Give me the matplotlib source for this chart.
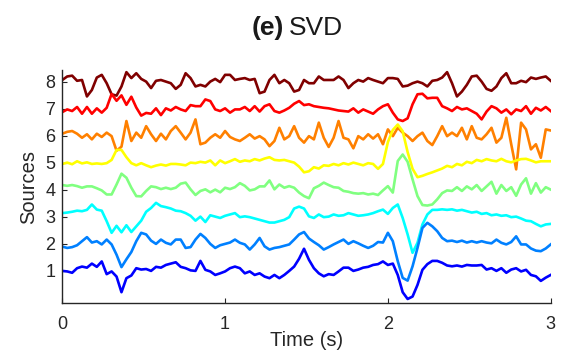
import numpy as np
import matplotlib
matplotlib.use("Agg")
import matplotlib.pyplot as plt

plt.rcParams['font.family'] = ['Liberation Sans', 'DejaVu Sans']

# sampling grid (s) and the 8 source traces
time = np.linspace(0, 3, 100)

source1 = [1.00, 0.98, 0.93, 1.10, 1.16, 1.12, 1.27, 1.15, 1.35, 0.88,
           0.98, 0.79, 0.21, 0.73, 0.83, 1.10, 1.05, 1.07, 1.00, 1.15,
           1.12, 1.22, 1.27, 1.32, 1.15, 1.10, 1.02, 1.00, 1.37, 1.04,
           0.98, 0.85, 0.91, 0.98, 1.10, 1.16, 1.10, 0.91, 0.98, 0.85,
           0.91, 0.79, 0.73, 0.85, 0.73, 0.85, 1.00, 1.16, 1.45, 1.82,
           1.41, 1.10, 0.91, 0.80, 0.88, 0.85, 0.98, 1.12, 1.12, 1.00,
           1.05, 1.12, 1.15, 1.22, 1.25, 1.35, 1.22, 1.27, 0.85, 0.21,
           -0.04, 0.05, 0.48, 1.04, 1.25, 1.37, 1.37, 1.30, 1.20, 1.17,
           1.20, 1.16, 1.22, 1.20, 1.20, 1.22, 1.05, 1.10, 1.00, 1.10,
           0.93, 1.05, 1.10, 0.98, 1.04, 0.85, 0.80, 0.63, 0.75, 0.85]
source2 = [1.90, 1.85, 1.88, 1.95, 2.10, 2.25, 2.05, 2.10, 1.98, 2.16,
           1.98, 1.60, 1.14, 1.43, 1.70, 2.10, 2.41, 2.35, 2.12, 2.00,
           2.16, 2.04, 1.98, 2.16, 2.16, 1.85, 1.88, 2.16, 2.37, 2.22,
           2.00, 1.85, 1.95, 2.00, 2.05, 2.16, 2.04, 1.98, 1.79, 1.98,
           2.22, 1.91, 1.79, 1.85, 1.88, 1.93, 1.98, 2.16, 2.35, 2.44,
           2.20, 2.07, 1.95, 1.79, 1.88, 1.98, 2.07, 2.16, 2.00, 2.10,
           2.02, 1.93, 1.85, 1.93, 2.07, 2.05, 2.41, 2.10, 1.36, 0.74,
           0.64, 1.17, 1.85, 2.59, 2.78, 2.65, 2.47, 2.22, 2.10, 2.12,
           2.07, 2.12, 2.05, 2.10, 2.05, 2.10, 2.05, 2.02, 2.16, 2.04,
           1.98, 2.07, 2.28, 1.98, 1.98, 1.83, 1.75, 1.73, 1.83, 1.98]
source3 = [3.14, 3.16, 3.19, 3.23, 3.21, 3.26, 3.46, 3.27, 3.23, 2.84,
           2.41, 2.67, 2.43, 2.69, 2.44, 2.65, 2.86, 3.19, 3.33, 3.52,
           3.40, 3.36, 3.31, 3.23, 3.21, 3.14, 3.04, 2.86, 3.01, 2.81,
           3.06, 3.01, 2.96, 3.04, 3.09, 3.14, 2.99, 3.02, 2.99, 2.94,
           2.89, 2.84, 2.79, 2.79, 2.84, 2.89, 2.99, 3.31, 3.38, 3.31,
           3.02, 2.96, 3.09, 2.99, 3.01, 3.09, 3.04, 3.06, 3.14, 3.09,
           3.04, 3.06, 3.09, 3.14, 3.21, 3.27, 3.11, 3.33, 3.46, 2.96,
           2.35, 1.67, 2.04, 2.72, 3.09, 3.26, 3.26, 3.28, 3.26, 3.28,
           3.23, 3.26, 3.21, 3.16, 3.19, 3.11, 3.14, 3.06, 3.09, 3.04,
           3.06, 2.99, 3.01, 2.94, 2.86, 2.84, 2.74, 2.65, 2.72, 2.74]
source4 = [4.18, 4.15, 4.18, 4.14, 4.08, 4.13, 4.13, 4.06, 3.98, 3.83,
           3.83, 4.20, 4.60, 4.45, 4.08, 3.77, 3.76, 3.96, 4.13, 4.10,
           4.03, 4.08, 4.03, 4.08, 4.23, 4.27, 4.02, 3.81, 3.96, 4.02,
           3.91, 4.01, 3.91, 4.08, 4.03, 4.10, 4.25, 4.15, 3.98, 4.02,
           4.13, 4.13, 4.35, 4.02, 4.20, 4.08, 4.14, 4.08, 3.90, 3.77,
           3.69, 4.06, 4.15, 4.27, 4.18, 4.10, 4.08, 3.96, 3.93, 3.88,
           3.86, 3.88, 3.83, 3.86, 3.81, 3.98, 4.14, 3.90, 5.07, 5.31,
           5.04, 4.39, 3.77, 3.44, 3.42, 3.46, 3.65, 3.88, 3.98, 3.96,
           4.10, 3.96, 4.13, 4.02, 4.18, 3.96, 4.13, 4.30, 3.86, 4.18,
           3.96, 4.10, 3.78, 4.20, 4.43, 3.86, 4.25, 3.90, 4.10, 4.01]
source5 = [4.96, 5.01, 4.95, 5.06, 4.98, 5.02, 4.96, 4.98, 4.96, 4.99,
           5.11, 5.48, 5.48, 5.21, 4.99, 4.91, 4.99, 4.91, 4.84, 4.90,
           4.94, 4.90, 4.96, 4.96, 4.94, 4.91, 5.01, 4.99, 5.04, 5.01,
           5.09, 4.91, 5.09, 4.99, 5.06, 5.14, 5.04, 5.09, 5.06, 5.14,
           5.09, 5.16, 5.21, 5.11, 5.09, 5.11, 5.06, 5.01, 4.86, 4.65,
           4.69, 4.84, 4.79, 4.91, 4.89, 4.96, 4.91, 4.99, 4.94, 5.01,
           4.96, 4.91, 4.99, 4.96, 4.78, 4.96, 5.77, 6.22, 6.42, 6.17,
           5.40, 4.78, 4.47, 4.52, 4.59, 4.65, 4.72, 4.79, 4.89, 4.84,
           4.96, 4.91, 5.04, 4.99, 5.11, 5.06, 5.14, 5.09, 5.06, 5.15,
           5.06, 5.02, 5.09, 5.14, 5.15, 5.09, 5.02, 5.06, 5.06, 5.06]
source6 = [6.08, 6.15, 6.18, 6.08, 5.93, 6.06, 5.87, 6.08, 5.96, 6.12,
           5.99, 5.45, 5.60, 6.55, 5.81, 6.12, 5.93, 6.36, 6.06, 5.81,
           6.08, 5.87, 6.18, 6.36, 6.12, 5.87, 6.12, 6.61, 5.69, 5.75,
           5.93, 6.06, 5.93, 6.18, 5.96, 5.87, 5.81, 5.93, 6.06, 5.90,
           5.99, 5.87, 5.62, 5.81, 6.30, 5.87, 5.99, 6.36, 5.93, 5.75,
           5.99, 5.87, 6.49, 5.93, 5.59, 5.93, 6.55, 5.93, 5.87, 5.54,
           5.99, 5.87, 6.06, 5.90, 6.06, 5.69, 6.24, 5.99, 6.30, 6.12,
           5.99, 5.81, 5.99, 6.12, 5.81, 5.66, 5.99, 6.36, 5.99, 6.12,
           5.99, 6.30, 5.87, 6.36, 5.93, 5.87, 6.06, 6.30, 5.75, 5.93,
           6.67, 5.69, 4.76, 6.49, 6.24, 5.50, 5.69, 5.19, 6.24, 6.20]
source7 = [6.88, 6.98, 6.92, 7.07, 6.82, 7.07, 6.82, 7.02, 6.86, 7.04,
           7.55, 7.30, 7.50, 7.15, 7.45, 7.05, 6.75, 6.85, 6.82, 7.02,
           6.77, 7.02, 6.94, 7.07, 6.98, 6.92, 7.14, 7.10, 7.10, 7.35,
           7.29, 6.98, 6.92, 7.02, 6.86, 6.98, 6.98, 7.07, 6.92, 7.10,
           6.90, 7.10, 7.17, 6.92, 6.86, 6.94, 7.04, 7.19, 7.29, 7.14,
           7.17, 7.10, 7.07, 7.04, 7.02, 6.98, 6.94, 6.92, 6.90, 7.02,
           6.86, 6.98, 6.90, 6.82, 6.98, 7.10, 7.17, 6.86, 6.61, 6.55,
           6.65, 7.17, 7.54, 7.56, 7.39, 7.41, 7.41, 7.10, 7.02, 6.92,
           7.07, 6.98, 7.02, 6.92, 6.82, 6.61, 6.90, 7.10, 7.02, 6.86,
           6.98, 6.80, 6.98, 6.92, 7.10, 6.82, 7.04, 6.94, 7.07, 6.92]
source8 = [8.07, 8.20, 8.23, 8.04, 8.07, 7.46, 7.70, 8.16, 8.26, 7.95,
           7.54, 7.49, 7.83, 8.36, 8.14, 8.32, 8.11, 8.01, 7.77, 8.04,
           8.07, 8.01, 7.95, 7.74, 7.89, 8.32, 8.14, 7.83, 7.89, 7.83,
           8.01, 8.11, 7.99, 8.26, 8.26, 8.07, 8.11, 8.14, 8.07, 8.11,
           7.58, 7.64, 8.07, 8.26, 7.95, 8.07, 7.95, 7.64, 7.70, 8.07,
           7.95, 7.95, 8.20, 8.07, 8.07, 8.07, 8.20, 8.07, 7.77, 7.95,
           8.07, 8.01, 8.14, 8.07, 8.01, 7.95, 8.14, 8.14, 8.11, 7.83,
           7.86, 7.95, 8.01, 7.95, 7.83, 8.04, 8.07, 8.16, 8.36, 7.95,
           7.46, 7.64, 7.89, 8.20, 8.23, 8.01, 7.74, 7.67, 7.83, 8.14,
           8.32, 7.95, 7.95, 8.04, 7.99, 8.16, 8.11, 8.16, 8.20, 8.04]

sources = [source1, source2, source3, source4, source5, source6, source7, source8]
ytick_values = [1, 2, 3, 4, 5, 6, 7, 8]
xtick_values = [0, 1, 2, 3]

# MATLAB jet(8)
colors = [(0, 0, 1), (0, 0.5, 1), (0, 1, 1), (0.5, 1, 0.5),
          (1, 1, 0), (1, 0.5, 0), (1, 0, 0), (0.5, 0, 0)]

fig = plt.figure(figsize=(5.74, 3.51), dpi=100)
ax = fig.add_axes([0.1085, 0.1359, 0.8509, 0.6647])

# draw top trace first so the lower ones sit on top
for vals, c in reversed(list(zip(sources, colors))):
    ax.plot(time, vals, color=c, lw=1.9, solid_joinstyle='round')

ax.set_xlim(0, 3)
ax.set_ylim(-0.2, 8.44)
ax.set_xticks(xtick_values)
ax.set_yticks(ytick_values)
ax.spines['top'].set_visible(False)
ax.spines['right'].set_visible(False)
for s in ('left', 'bottom'):
    ax.spines[s].set_linewidth(1.0)
    ax.spines[s].set_color('#262626')
ax.tick_params(axis='both', direction='in', length=3.5, width=0.8,
               colors='#262626', labelsize=13)
ax.tick_params(axis='x', pad=9)
ax.tick_params(axis='y', pad=5)

fig.text(284 / 574, 1 - 35 / 351, '(e)', ha='right', va='baseline',
         fontsize=19, fontweight='bold', color='#1a1a1a')
fig.text(289 / 574, 1 - 35 / 351, 'SVD', ha='left', va='baseline',
         fontsize=19, color='#1a1a1a')
fig.text(306.5 / 574, 1 - 346 / 351, 'Time (s)', ha='center', va='baseline',
         fontsize=14.5, color='#262626')
fig.text(29 / 574, 1 - 186.5 / 351, 'Sources', ha='center', va='center',
         rotation=90, fontsize=14.5, color='#262626')

fig.savefig('out.png', dpi=100)
